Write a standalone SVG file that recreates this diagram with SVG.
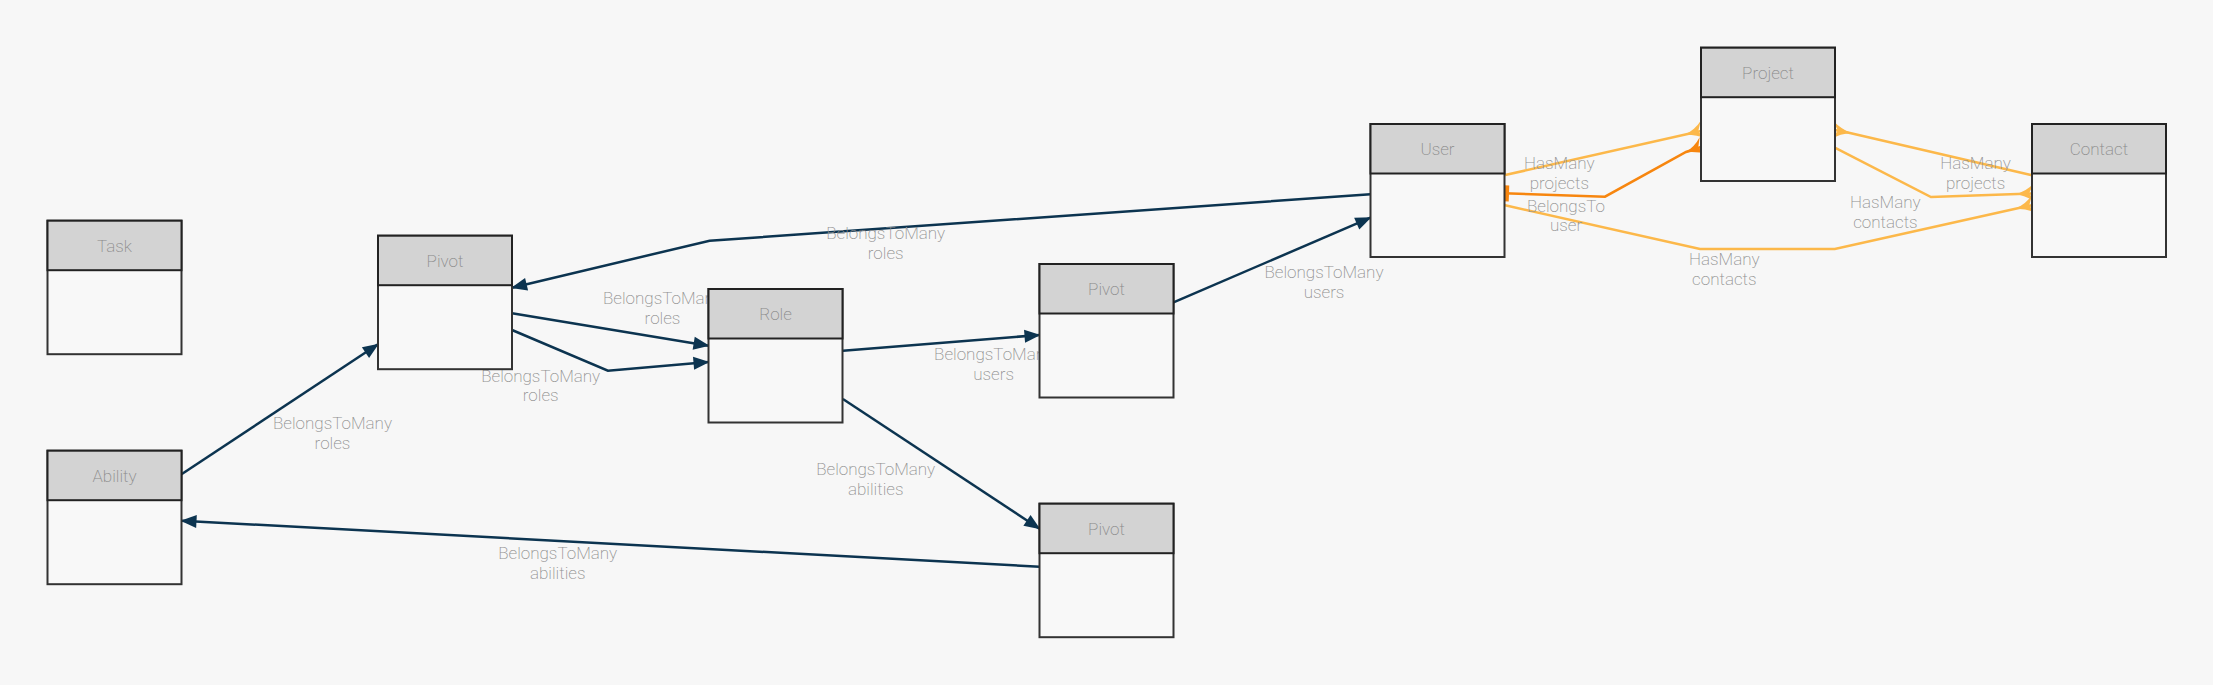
<svg xmlns="http://www.w3.org/2000/svg" width="2213" height="685" viewBox="0 0 2213 685">
<style>
.hdr{fill:#d3d3d3;stroke:#222;stroke-width:2}
.body{fill:#f8f8f8;stroke:#333;stroke-width:2}
.title{font-family:Roboto,"Liberation Sans",sans-serif;font-weight:200;font-size:17px;fill:#8a8a8a;text-anchor:middle}
.lbl{font-family:Roboto,"Liberation Sans",sans-serif;font-weight:200;font-size:17px;fill:#909090;text-anchor:middle}
.navy{fill:none;stroke:#0c3450;stroke-width:2.5;marker-end:url(#arr)}
.lo{fill:none;stroke:#fcb84a;stroke-width:2.5}
.do{fill:none;stroke:#f7860f;stroke-width:2.5}
</style>
<defs>
<marker id="arr" markerUnits="userSpaceOnUse" orient="auto" overflow="visible" markerWidth="20" markerHeight="20" refX="0" refY="0">
<path d="M1,0 L-15,-6.5 L-15,6.5 Z" fill="#0c3450"/>
</marker>
<marker id="manyL" markerUnits="userSpaceOnUse" orient="auto" overflow="visible" markerWidth="20" markerHeight="20" refX="0" refY="0">
<path d="M-17,0 Q-6,-2 2,-10 L-3,0 L4,9 Q-6,2 -17,0 Z" fill="#fcb84a"/>
</marker>
<marker id="manyD" markerUnits="userSpaceOnUse" orient="auto" overflow="visible" markerWidth="20" markerHeight="20" refX="0" refY="0">
<path d="M-17,0 Q-6,-2 2,-10 L-3,0 L4,9 Q-6,2 -17,0 Z" fill="#f7860f"/>
</marker>
<marker id="bar" markerUnits="userSpaceOnUse" orient="auto" overflow="visible" markerWidth="20" markerHeight="20" refX="0" refY="0">
<rect x="0" y="-8" width="5" height="16" fill="#f7860f"/>
</marker>
</defs>
<rect width="2213" height="685" fill="#f7f7f7"/>

<g id="connectors">
<path class="navy" d="M181.5,474.3 L378,344.3"/>
<path class="navy" d="M1370.5,194.3 L709.6,240.7 L512,287.7"/>
<path class="navy" d="M512,313.3 L708.5,345.7"/>
<path class="navy" d="M512,330 L607.9,370.7 L708.5,362"/>
<path class="navy" d="M842.9,350.7 L1039.5,335"/>
<path class="navy" d="M842.9,399 L1039.5,528.7"/>
<path class="navy" d="M1039.5,566.7 L181.5,520.7"/>
<path class="navy" d="M1173.5,302.3 L1370.5,217.7"/>
<path class="lo" d="M1504,175.3 L1701,131" marker-end="url(#manyL)"/>
<path class="do" d="M1504,193.3 L1605,196.7 L1686,152 L1701,147" marker-start="url(#bar)" marker-end="url(#manyD)"/>
<path class="lo" d="M1504,205 L1700,249 L1834.8,249 L2020,207.7 L2032,205.3" marker-end="url(#manyL)"/>
<path class="lo" d="M1834.8,147.7 L1931,197 L2032,193.5" marker-end="url(#manyL)"/>
<path class="lo" d="M2032,175.3 L1846.7,132.3 L1835,130" marker-end="url(#manyL)"/>
<text class="lbl" y="429.3"><tspan x="332.5">BelongsToMany</tspan><tspan x="332.5" dy="19.5">roles</tspan></text>
<text class="lbl" y="304"><tspan x="662.5">BelongsToMany</tspan><tspan x="662.5" dy="19.5">roles</tspan></text>
<text class="lbl" y="381.7"><tspan x="540.7">BelongsToMany</tspan><tspan x="540.7" dy="19.5">roles</tspan></text>
<text class="lbl" y="239.3"><tspan x="885.7">BelongsToMany</tspan><tspan x="885.7" dy="19.5">roles</tspan></text>
<text class="lbl" y="360"><tspan x="993.6">BelongsToMany</tspan><tspan x="993.6" dy="19.5">users</tspan></text>
<text class="lbl" y="475.3"><tspan x="875.7">BelongsToMany</tspan><tspan x="875.7" dy="19.5">abilities</tspan></text>
<text class="lbl" y="559.3"><tspan x="557.7">BelongsToMany</tspan><tspan x="557.7" dy="19.5">abilities</tspan></text>
<text class="lbl" y="278"><tspan x="1324">BelongsToMany</tspan><tspan x="1324" dy="19.5">users</tspan></text>
<text class="lbl" y="169"><tspan x="1559.3">HasMany</tspan><tspan x="1559.3" dy="19.5">projects</tspan></text>
<text class="lbl" y="211.5"><tspan x="1566">BelongsTo</tspan><tspan x="1566" dy="19.5">user</tspan></text>
<text class="lbl" y="265"><tspan x="1724.3">HasMany</tspan><tspan x="1724.3" dy="19.5">contacts</tspan></text>
<text class="lbl" y="208"><tspan x="1885.4">HasMany</tspan><tspan x="1885.4" dy="19.5">contacts</tspan></text>
<text class="lbl" y="169"><tspan x="1975.6">HasMany</tspan><tspan x="1975.6" dy="19.5">projects</tspan></text>
</g>

<g id="task"><rect class="body" x="47.5" y="220.7" width="134" height="133.5"/><rect class="hdr" x="47.5" y="220.7" width="134" height="49.5"/><text class="title" x="114.5" y="251.5">Task</text></g>
<g id="ability"><rect class="body" x="47.5" y="450.7" width="134" height="133.5"/><rect class="hdr" x="47.5" y="450.7" width="134" height="49.5"/><text class="title" x="114.5" y="481.5">Ability</text></g>
<g id="pivot-roles"><rect class="body" x="378" y="235.7" width="134" height="133.5"/><rect class="hdr" x="378" y="235.7" width="134" height="49.5"/><text class="title" x="445" y="266.5">Pivot</text></g>
<g id="role"><rect class="body" x="708.5" y="289" width="134" height="133.5"/><rect class="hdr" x="708.5" y="289" width="134" height="49.5"/><text class="title" x="775.5" y="319.8">Role</text></g>
<g id="pivot-users"><rect class="body" x="1039.5" y="264" width="134" height="133.5"/><rect class="hdr" x="1039.5" y="264" width="134" height="49.5"/><text class="title" x="1106.5" y="294.8">Pivot</text></g>
<g id="pivot-abilities"><rect class="body" x="1039.5" y="503.7" width="134" height="133.5"/><rect class="hdr" x="1039.5" y="503.7" width="134" height="49.5"/><text class="title" x="1106.5" y="534.5">Pivot</text></g>
<g id="user"><rect class="body" x="1370.5" y="124" width="134" height="133"/><rect class="hdr" x="1370.5" y="124" width="134" height="49.5"/><text class="title" x="1437.5" y="154.8">User</text></g>
<g id="project"><rect class="body" x="1701" y="47.7" width="134" height="133.3"/><rect class="hdr" x="1701" y="47.7" width="134" height="49.5"/><text class="title" x="1768" y="78.5">Project</text></g>
<g id="contact"><rect class="body" x="2032" y="124" width="134" height="133"/><rect class="hdr" x="2032" y="124" width="134" height="49.5"/><text class="title" x="2099" y="154.8">Contact</text></g>
</svg>
